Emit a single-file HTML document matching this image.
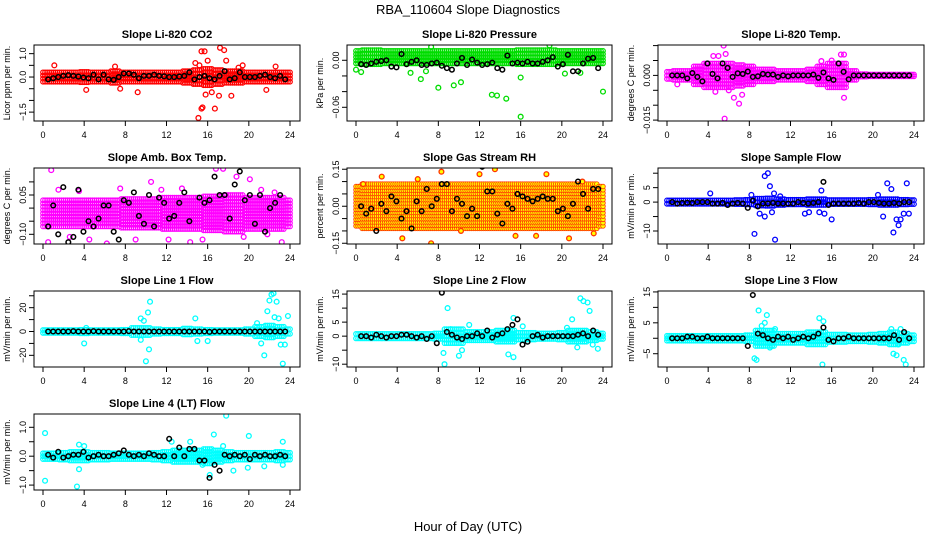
<!DOCTYPE html>
<html><head><meta charset="utf-8"><style>
html,body{margin:0;padding:0;background:#fff}
svg{display:block;font-family:"Liberation Sans",Helvetica,Arial,sans-serif}
</style></head><body>
<svg id="chart" width="936" height="540" viewBox="0 0 936 540" xmlns="http://www.w3.org/2000/svg">
<text x="468" y="14" text-anchor="middle" font-size="13">RBA_110604  Slope Diagnostics</text>
<text x="468" y="531" text-anchor="middle" font-size="13">Hour of Day (UTC)</text>
</svg>
<script>
const xTicks = [0,4,8,12,16,20,24];
// ---- CO2 ----
const co2Band = [0.2,0.2,0.2,0.2,0.22,0.2,0.2,0.25,0.2,0.2,0.2,0.2,0.2,0.2,0.25,0.3,0.35,0.3,0.25,0.25,0.2,0.2,0.2,0.2,0.2];
const co2Out = [[1.1,0.5],[4.2,-0.55],[7,0.45],[7.5,-0.5],[9.2,-0.65],[14.8,0.6],[15.2,0.5],[15.4,1.1],[15.7,1.1],[16,0.7],[15.1,-1.75],[15.4,-1.35],[15.5,-1.3],[16.7,-1.35],[15.8,-0.75],[16.4,-0.65],[17.2,1.25],[17.6,1.15],[17.8,0.7],[17.1,-0.8],[18.3,-0.8],[19.4,0.5],[21.7,-0.55],[19,0.4],[22.6,0.45]];
const co2Black = [-0.1,-0.05,0,0.05,0.08,0.05,0.02,-0.02,-0.05,0.1,-0.1,0.1,-0.1,-0.12,0,0.15,0.15,0.1,-0.05,0.05,0.05,0.1,0.05,0.03,0,0,0.02,0.05,0.2,-0.1,0,0.05,-0.05,-0.1,0.05,0.25,-0.1,-0.05,0.2,0,0,0,0.05,0.1,0,-0.05,0.05,-0.1];
// ---- Pressure ----
const presBand = [0.008,0.009,0.009,0.008,0.008,0.008,0.008,0.008,0.008,0.008,0.008,0.008,0.008,0.008,0.008,0.008,0.009,0.009,0.009,0.009,0.008,0.008,0.008,0.008,0.008];
const presOut = [[0,-0.012],[0.5,-0.015],[5.3,-0.016],[6.3,-0.024],[8,-0.035],[9.5,-0.032],[10.2,-0.028],[6.8,-0.014],[13.2,-0.044],[13.7,-0.045],[14.6,-0.049],[16,-0.072],[16,-0.022],[20.3,-0.017],[24,-0.040],[21.8,-0.016],[7.3,0.017],[18.8,0.019]];
const presBlack = [-0.005,-0.006,-0.004,-0.002,-0.001,0,-0.008,-0.009,0.008,-0.005,-0.002,0,-0.006,-0.006,-0.004,-0.003,-0.007,-0.01,-0.012,-0.004,0.003,-0.006,0.001,-0.003,-0.006,-0.005,-0.003,-0.01,-0.012,0.006,-0.004,-0.003,-0.004,-0.002,-0.004,-0.004,-0.002,0,0.004,-0.008,-0.005,0.007,-0.014,-0.014,-0.004,0.002,0.003,-0.01];
// ---- Li-820 Temp ----
const tempBand = [0.0012,0.0015,0.0015,0.003,0.004,0.004,0.004,0.0035,0.003,0.002,0.002,0.0015,0.0015,0.0015,0.002,0.003,0.004,0.004,0.0015,0.0004,0.0003,0.0003,0.0003,0.0003,0.0003];
const tempOut = [[4.5,0.0065],[5,0.0065],[5.5,0.01],[5.7,0.0072],[5.6,-0.0145],[6.5,-0.0075],[7,-0.0095],[7.3,-0.0065],[4.7,-0.0055],[1,-0.003],[16.9,0.007],[17.2,0.007],[17.2,-0.0075],[15,0.0048],[16,0.005],[6,-0.005]];
const tempBlack = [0,0,0,-0.001,0.0008,-0.0005,-0.002,0.004,0.0005,-0.001,0.004,0.0025,-0.0005,0.0007,0.0005,0.0013,-0.0005,-0.0003,0.0005,0.0003,0.0003,-0.0005,0,-0.0003,0,0,0,0,0.0003,-0.0008,0.001,-0.001,-0.0015,0.004,0.0012,-0.0013,0,0,0,0,0,0,0,0,0,0,0,0];
// ---- Amb Box Temp ----
const ambBand = [0.05,0.05,0.05,0.05,0.05,0.05,0.05,0.05,0.055,0.055,0.055,0.055,0.06,0.06,0.06,0.06,0.065,0.065,0.07,0.07,0.06,0.06,0.06,0.06,0.05];
const ambOut = [[0.5,-0.13],[0.8,0.145],[1.5,0.07],[2.6,-0.11],[3.5,0.065],[4.5,-0.12],[6.2,-0.135],[7.5,0.075],[9,-0.12],[10.5,0.1],[11.5,0.07],[12.2,-0.12],[13.5,0.075],[14.3,-0.13],[15.5,-0.12],[16.8,0.15],[17.5,0.15],[18.8,0.12],[19.5,-0.11],[21.2,0.07],[21.8,-0.1],[23.2,-0.13],[22.5,0.06],[20.1,0.11]];
const ambBlack = [-0.07,0.01,-0.1,0.08,-0.13,-0.11,0.07,-0.09,-0.05,-0.07,-0.04,0.01,0.01,-0.09,-0.12,0.03,0.02,0.06,-0.03,-0.06,0.05,-0.07,0.04,0.02,-0.04,-0.03,0.02,0.06,-0.05,-0.16,0.04,0.02,0.03,0.12,0.05,0.05,-0.04,0.09,0.14,0.03,0.05,-0.06,0.05,-0.09,0.0,0.02,0.05,-0.15];
// ---- Gas Stream RH ----
const rhBand = [0.08,0.09,0.09,0.09,0.09,0.09,0.09,0.09,0.09,0.09,0.09,0.09,0.09,0.09,0.09,0.09,0.09,0.09,0.09,0.09,0.09,0.09,0.09,0.09,0.08];
const rhOut = [[0.7,0.09],[2.5,0.12],[4.5,-0.13],[6,0.11],[7.3,-0.15],[8.3,0.14],[10.2,-0.1],[12,0.13],[13.5,0.15],[15.5,-0.12],[17.5,-0.12],[18.5,0.13],[20.7,-0.13],[22,0.1],[23.1,-0.11]];
const rhBlack = [0.0,-0.03,-0.01,-0.1,0.01,-0.02,0.04,0.02,-0.05,-0.02,-0.09,0.02,-0.02,0.07,0.0,0.03,0.09,0.09,-0.02,0.03,0.01,-0.04,-0.01,-0.04,0.16,0.06,0.06,-0.03,-0.07,0.01,-0.01,0.05,0.04,0.03,0.02,0.03,0.04,0.03,0.03,-0.02,-0.01,-0.04,0.01,0.1,0.05,-0.01,0.07,0.07];
// ---- Sample Flow ----
const flowBand = [0.6,0.6,0.6,0.6,0.6,0.6,0.6,0.7,0.8,1.2,1.3,1.0,0.8,0.8,1.0,1.0,0.7,0.7,0.7,0.7,0.8,1.0,1.0,0.8,0.7];
const flowOut = [[4.2,3],[8.2,2.5],[8.5,-11],[9,-4],[9.5,-5],[9.5,9],[9.8,10],[10,5.5],[10.2,-3.5],[10.4,3],[10.5,-13],[11,2],[13.4,-4],[13.8,-3.5],[14.8,-3.5],[15,4],[15.3,-4],[16,-6],[20.5,2.5],[21,-5],[21.4,6.5],[21.8,4.5],[22,-10.5],[22.3,-6],[22.5,-8],[22.7,-6],[23,-4],[23.3,6.5],[23.5,-4]];
const flowBlack = [0,-0.5,-0.3,-0.2,-0.3,0,0,0,-0.5,-0.5,-0.3,-1,-0.5,-0.3,-0.5,-2,0.5,-1.5,-0.5,-0.5,-0.3,-0.5,-0.5,-0.5,-0.5,0,-0.3,-0.5,-0.3,0,7,-1,-0.5,-0.5,-0.5,-0.5,-0.5,-0.3,-0.5,0,0,-0.3,-0.5,-0.5,-0.3,-0.5,0,0];
// ---- Line 1 ----
const l1Band = [1.2,1.2,1.2,1.2,1.5,1.2,1.2,1.2,1.5,3,3,2,1.5,1.5,2.5,2,1.5,1.2,1.2,1.2,2,4,5,4,2];
const l1Out = [[4,-10],[4.2,3],[9.5,11],[9.8,9],[10,-25],[10.2,16],[10.4,25],[10.3,-15],[9.5,-7],[14.8,11],[15,-8],[16,-8],[20.8,7],[21.2,-10],[21.5,-20],[21.8,17],[22,26],[22.2,31],[22.4,32],[22.5,12],[22.7,25],[22.9,11],[23.1,-11],[23.3,-27],[23.5,-11],[23.8,13]];
const l1Black = [0,0,0,0,0,0.3,0,0,0,0.3,0,0,0,0,0,0,0.3,0,0,0,0,0,0,0,0,0,0,0,0,0,0,0,-0.3,0,0,0,0,0,0,0,0,0,0,0,0,0,0,0];
// ---- Line 2 ----
const l2Band = [0.8,0.8,0.8,0.8,0.8,0.8,0.8,0.8,1,2.5,2.5,1.5,1.5,1.5,2,2,1.2,1.2,1,1,1.2,2,2,1.5,1];
const l2Out = [[8.5,-6],[8.6,-10],[8.9,10],[9.2,2.5],[10,-7],[10.3,-5],[11,4],[14.8,-6.5],[15.3,-7.5],[15.3,6.5],[16.2,3.5],[21,6],[21.8,13.5],[22.1,12.5],[22.5,12],[22.7,9],[23.5,-4.5],[21.5,-4],[20.5,3],[23,-3]];
const l2Black = [0,0,-0.5,0.5,0,-0.5,0,0,0.5,0.5,0,-0.5,0,-1,0,-2.5,15.5,1.5,0.5,-0.5,-1,0,0,1,0,2,-0.5,0.5,1,2.5,4,6,-3,-2,0,0.5,-0.5,0,0,0,0,0,0,0.5,1,0,2,0.5];
// ---- Line 3 ----
const l3Band = [0.8,0.8,0.8,0.8,0.8,0.8,0.8,0.8,1,2.5,2.5,1.5,1.5,1.5,2,2,1.2,1.2,1,1,1.2,1.5,2,1.5,1];
const l3Out = [[8.5,-6.5],[8.7,-7],[8.9,9],[9.2,4],[9.5,5],[9.7,7.5],[10,-3],[10.5,3],[10.2,-2.5],[14.8,6.5],[15.2,5.5],[15.1,-8.5],[21.8,3],[22,-5],[22.3,-5.5],[22.7,3],[23,-7],[23.2,-8.5],[22.5,-2]];
const l3Black = [0,0,0,0.5,0.5,0,0,0.5,0,0,0,0,0,0,0,-2.5,14,1.5,1,0,-0.5,0.5,0,0.5,-0.5,0,0.5,0,0.5,1.5,3.5,-0.5,-1,0,0,0.5,0,0,0,0,0,0,0,0,1,-0.5,2,0];
// ---- Line 4 ----
const l4Band = [0.1,0.1,0.12,0.15,0.15,0.12,0.12,0.1,0.1,0.1,0.1,0.12,0.15,0.2,0.2,0.2,0.25,0.2,0.15,0.12,0.12,0.12,0.12,0.15,0.12];
const l4Out = [[0.2,0.8],[0.2,-0.85],[3.3,-1.05],[3.5,-0.45],[3.5,0.4],[4,0.35],[12.5,0.5],[14.3,0.5],[15.5,-0.3],[16.2,-0.65],[16.6,0.75],[17.8,1.4],[18.5,-0.5],[20,0.7],[19.9,-0.4],[21.5,-0.35],[23.3,0.5],[23.3,-0.3],[17.5,0.35]];
const l4Black = [0.05,-0.05,0.15,-0.05,0,0.05,0.05,0.15,-0.05,0,0.05,0,0,0.05,0.1,0.2,0.05,0,0.05,0,0.1,0.05,0,0,0.6,0,0.3,0,0.25,0.25,-0.15,-0.15,-0.75,-0.3,-0.5,0.05,0,0.05,0,0.05,-0.1,0.05,0,0.05,0,0,0.05,0];

const panels = [
 {name:'co2',title:'Slope Li-820 CO2',ylab:'Licor ppm per min.',col:0,row:0,ymin:-1.88,ymax:1.37,ticks:[-1.5,-1,-0.5,0,0.5,1],labs:{'1':'1.0','0':'0.0','-1.5':'−1.5'},band:co2Band,out:co2Out,black:co2Black,stroke:'#ff0000',fill:'none',sw:1.2},
 {name:'pressure',title:'Slope Li-820 Pressure',ylab:'kPa per min.',col:1,row:0,ymin:-0.0775,ymax:0.0195,ticks:[-0.06,-0.04,-0.02,0],labs:{'0':'0.00','-0.06':'−0.06'},center:0.004,band:presBand,out:presOut,black:presBlack,stroke:'#00dd00',fill:'none',sw:1.2},
 {name:'li820-temp',title:'Slope Li-820 Temp.',ylab:'degrees C per min.',col:2,row:0,ymin:-0.0153,ymax:0.0102,ticks:[-0.015,-0.01,-0.005,0,0.005,0.01],labs:{'0':'0.000','-0.015':'−0.015'},band:tempBand,out:tempOut,black:tempBlack,stroke:'#ff00ff',fill:'none',sw:1.2},
 {name:'amb-box-temp',title:'Slope Amb. Box Temp.',ylab:'degrees C per min.',col:0,row:1,ymin:-0.137,ymax:0.153,ticks:[-0.1,-0.05,0,0.05,0.1],labs:{'0.05':'0.05','-0.1':'−0.10'},center:-0.02,band:ambBand,out:ambOut,black:ambBlack,stroke:'#ff00ff',fill:'none',sw:1.1},
 {name:'gas-stream-rh',title:'Slope Gas Stream RH',ylab:'percent per min.',col:1,row:1,ymin:-0.153,ymax:0.155,ticks:[-0.15,-0.1,-0.05,0,0.05,0.1,0.15],labs:{'0.15':'0.15','0':'0.00','-0.15':'−0.15'},band:rhBand,out:rhOut,black:rhBlack,stroke:'#ff3300',fill:'#ffff00',sw:0.8},
 {name:'sample-flow',title:'Slope Sample Flow',ylab:'mV/min per min.',col:2,row:1,ymin:-14.5,ymax:11.8,ticks:[-10,-5,0,5,10],labs:{'5':'5','0':'0','-10':'−10'},band:flowBand,out:flowOut,black:flowBlack,stroke:'#0000ff',fill:'none',sw:1.2},
 {name:'line1-flow',title:'Slope Line 1 Flow',ylab:'mV/min per min.',col:0,row:2,ymin:-29.8,ymax:34,ticks:[-20,-10,0,10,20,30],labs:{'20':'20','0':'0','-20':'−20'},band:l1Band,out:l1Out,black:l1Black,stroke:'#00ffff',fill:'none',sw:1.2},
 {name:'line2-flow',title:'Slope Line 2 Flow',ylab:'mV/min per min.',col:1,row:2,ymin:-11,ymax:16.1,ticks:[-10,-5,0,5,10,15],labs:{'15':'15','5':'5','0':'0','-10':'−10'},band:l2Band,out:l2Out,black:l2Black,stroke:'#00ffff',fill:'none',sw:1.2},
 {name:'line3-flow',title:'Slope Line 3 Flow',ylab:'mV/min per min.',col:2,row:2,ymin:-9.3,ymax:15.3,ticks:[-5,0,5,10,15],labs:{'15':'15','5':'5','-5':'−5'},band:l3Band,out:l3Out,black:l3Black,stroke:'#00ffff',fill:'none',sw:1.2},
 {name:'line4-flow',title:'Slope Line 4 (LT) Flow',ylab:'mV/min per min.',col:0,row:3,ymin:-1.17,ymax:1.46,ticks:[-1,-0.5,0,0.5,1],labs:{'1':'1.0','0':'0.0','-1':'−1.0'},band:l4Band,out:l4Out,black:l4Black,stroke:'#00ffff',fill:'none',sw:1.2}
];
const colBox = [[34,300,43,290],[347,612,356,603],[658,924,667,914]];
const rowTop = [45,168,291,414];
const H = 76;
const NS = 'http://www.w3.org/2000/svg';
const svg = document.getElementById('chart');
function mk(tag, attrs, parent){const e=document.createElementNS(NS,tag);for(const k in attrs)e.setAttribute(k,attrs[k]);(parent||svg).appendChild(e);return e;}

panels.forEach(p=>{
  const [bl,br,x0,x24]=colBox[p.col]; const top=rowTop[p.row]; const bot=top+H;
  const xs=h=>x0+(x24-x0)*h/24;
  const ys=v=>bot-(v-p.ymin)/(p.ymax-p.ymin)*H;
  const g=mk('g',{});
  
  
  const t=mk('text',{x:(bl+br)/2,y:top-7,'text-anchor':'middle','font-size':'11','font-weight':'bold'},g);
  t.textContent=p.title;
  
  
  const yl=mk('text',{x:0,y:0,'text-anchor':'middle','font-size':'9',transform:`translate(${bl-24},${top+H/2}) rotate(-90)`},g);
  yl.textContent=p.ylab;
  
  
  xTicks.forEach(h=>{
    const l=mk('line',{x1:xs(h),x2:xs(h),y1:bot,y2:bot+5,stroke:'#000','stroke-width':1},g);
    
    
    const tx=mk('text',{x:xs(h),y:bot+17,'text-anchor':'middle','font-size':'9'},g);
    tx.textContent=h;
    
    
  });
  p.ticks.forEach(v=>{
    const y=ys(v); if(y<top-1||y>bot+1)return;
    const l=mk('line',{x1:bl-5,x2:bl,y1:y,y2:y,stroke:'#000','stroke-width':1},g);
    
    
    const key=String(v);
    if(p.labs[key]!==undefined){
      const ty=mk('text',{x:0,y:0,'text-anchor':'middle','font-size':'9',transform:`translate(${bl-8},${y}) rotate(-90)`},g);
      ty.textContent=p.labs[key];
      
      
    }
  });
  const cp=mk('clipPath',{id:'clip-'+p.name},g);
  mk('rect',{x:bl,y:top,width:br-bl,height:H},cp);
  const pts=mk('g',{'clip-path':`url(#clip-${p.name})`},g);
  
  
  const c0=p.center||0;
  const pxPerUnit=H/(p.ymax-p.ymin);
  for(let h=0;h<=24.0001;h+=0.2){
    const idx=Math.min(24,Math.round(h));
    const half=p.band[idx];
    const rows=Math.max(1,Math.round(2*half*pxPerUnit/3.2));
    for(let r=0;r<=rows;r++){
      const v=c0-half+2*half*r/rows;
      const c=mk('circle',{cx:xs(h),cy:ys(v),r:2.3,fill:p.fill,stroke:p.stroke,'stroke-width':p.sw},pts);
      
      
    }
  }
  p.out.forEach(([h,v])=>{
    const c=mk('circle',{cx:xs(h),cy:ys(v),r:2.4,fill:p.fill,stroke:p.stroke,'stroke-width':1.3},pts);
    
    
  });
  p.black.forEach((v,i)=>{
    const h=0.5+i*0.49;
    const c=mk('circle',{cx:xs(h),cy:ys(v),r:2.3,fill:'none',stroke:'#000','stroke-width':1.5},pts);
    
    
  });
  const box=mk('rect',{x:bl,y:top,width:br-bl,height:H,fill:'none',stroke:'#000','stroke-width':1},g);
  
  
});
</script>
</body></html>
